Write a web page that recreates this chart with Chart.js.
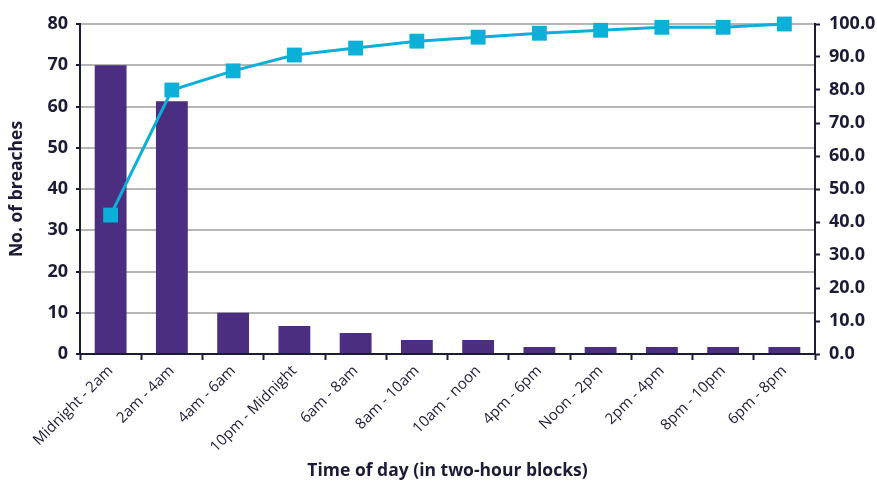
<!DOCTYPE html>
<html>
<head>
<meta charset="utf-8">
<script src="https://cdn.jsdelivr.net/npm/chart.js@4/dist/chart.umd.min.js"></script>
<style>
  html, body { margin: 0; padding: 0; background: #ffffff; }
  #wrap { width: 877px; height: 482px; }
</style>
</head>
<body>
<div id="wrap"><canvas id="chart" width="877" height="482"></canvas></div>
<script>
// Breaches by two-hour block, sorted by count, with the running percentage
const categories = [
  'Midnight - 2am', '2am - 4am', '4am - 6am', '10pm - Midnight',
  '6am - 8am', '8am - 10am', '10am - noon', '4pm - 6pm',
  'Noon - 2pm', '2pm - 4pm', '8pm - 10pm', '6pm - 8pm'
];
const breaches = [70, 61.3, 10, 6.8, 5.1, 3.4, 3.4, 1.7, 1.7, 1.7, 1.7, 1.7];
const cumulativePct = [42.1, 80.0, 85.8, 90.6, 92.7, 94.8, 96.0, 97.2, 98.1, 99.0, 99.0, 100.0];
const countTicks = [0, 10, 20, 30, 40, 50, 60, 70, 80];
const pctTicks = [0, 10, 20, 30, 40, 50, 60, 70, 80, 90, 100];

const INK = '#1c1b36';
const GRID = '#b6b6b6';
const PURPLE = '#4b2e80';
const CYAN = '#0ab0d8';
const FONT = "'Open Sans', 'DejaVu Sans', sans-serif";

new Chart(document.getElementById('chart'), {
  data: {
    labels: categories,
    datasets: [
      {
        type: 'line',
        data: cumulativePct,
        yAxisID: 'yPct',
        borderColor: CYAN,
        backgroundColor: CYAN,
        borderWidth: 3,
        tension: 0,
        pointStyle: 'rect',
        pointRadius: 10.5,
        pointBorderWidth: 0,
        pointBackgroundColor: CYAN,
        clip: false,
        order: 0
      },
      {
        type: 'bar',
        data: breaches,
        yAxisID: 'y',
        backgroundColor: PURPLE,
        borderWidth: 0,
        categoryPercentage: 1,
        barPercentage: 0.52,
        order: 1
      }
    ]
  },
  options: {
    responsive: false,
    animation: false,
    layout: { padding: { top: 24, right: 0, bottom: 0, left: 0 } },
    plugins: { legend: { display: false }, tooltip: { enabled: false } },
    scales: {
      x: {
        offset: true,
        grid: {
          offset: true,
          drawOnChartArea: false,
          drawTicks: true,
          tickLength: 6,
          tickWidth: 2,
          tickColor: INK
        },
        border: { display: true, color: INK, width: 2, z: 1 },
        ticks: {
          color: INK,
          font: { family: FONT, size: 15 },
          minRotation: 45,
          maxRotation: 45,
          autoSkip: false,
          padding: 2
        },
        title: {
          display: true,
          text: 'Time of day (in two-hour blocks)',
          color: INK,
          font: { family: FONT, size: 17.5, weight: 'bold' },
          padding: { top: 0, bottom: 0 }
        },
        afterFit(scale) { scale.height = 128; }
      },
      y: {
        position: 'left',
        min: 0,
        max: 80,
        afterBuildTicks(scale) { scale.ticks = countTicks.map(v => ({ value: v })); },
        grid: {
          color: (c) => (c.tick && c.tick.value === 0 ? 'rgba(0,0,0,0)' : GRID),
          lineWidth: 2,
          drawTicks: true,
          tickLength: 4,
          tickColor: INK,
          tickWidth: 2
        },
        border: { display: true, color: INK, width: 2, z: 1 },
        ticks: {
          color: INK,
          font: { family: FONT, size: 18, weight: 'bold' },
          padding: 8
        },
        title: {
          display: true,
          text: 'No. of breaches',
          color: INK,
          font: { family: FONT, size: 17.5, weight: 'bold' },
          padding: { top: 7, bottom: 0 }
        },
        afterFit(scale) { scale.width = 80; }
      },
      yPct: {
        position: 'right',
        min: 0,
        max: 100,
        afterBuildTicks(scale) { scale.ticks = pctTicks.map(v => ({ value: v })); },
        grid: {
          drawOnChartArea: false,
          drawTicks: true,
          tickLength: 5,
          tickColor: INK,
          tickWidth: 2
        },
        border: { display: true, color: INK, width: 2, z: 1 },
        ticks: {
          color: INK,
          font: { family: FONT, size: 18, weight: 'bold' },
          padding: 9,
          callback: (v) => Number(v).toFixed(1)
        },
        afterFit(scale) { scale.width = 62; }
      }
    }
  }
});
</script>
</body>
</html>
